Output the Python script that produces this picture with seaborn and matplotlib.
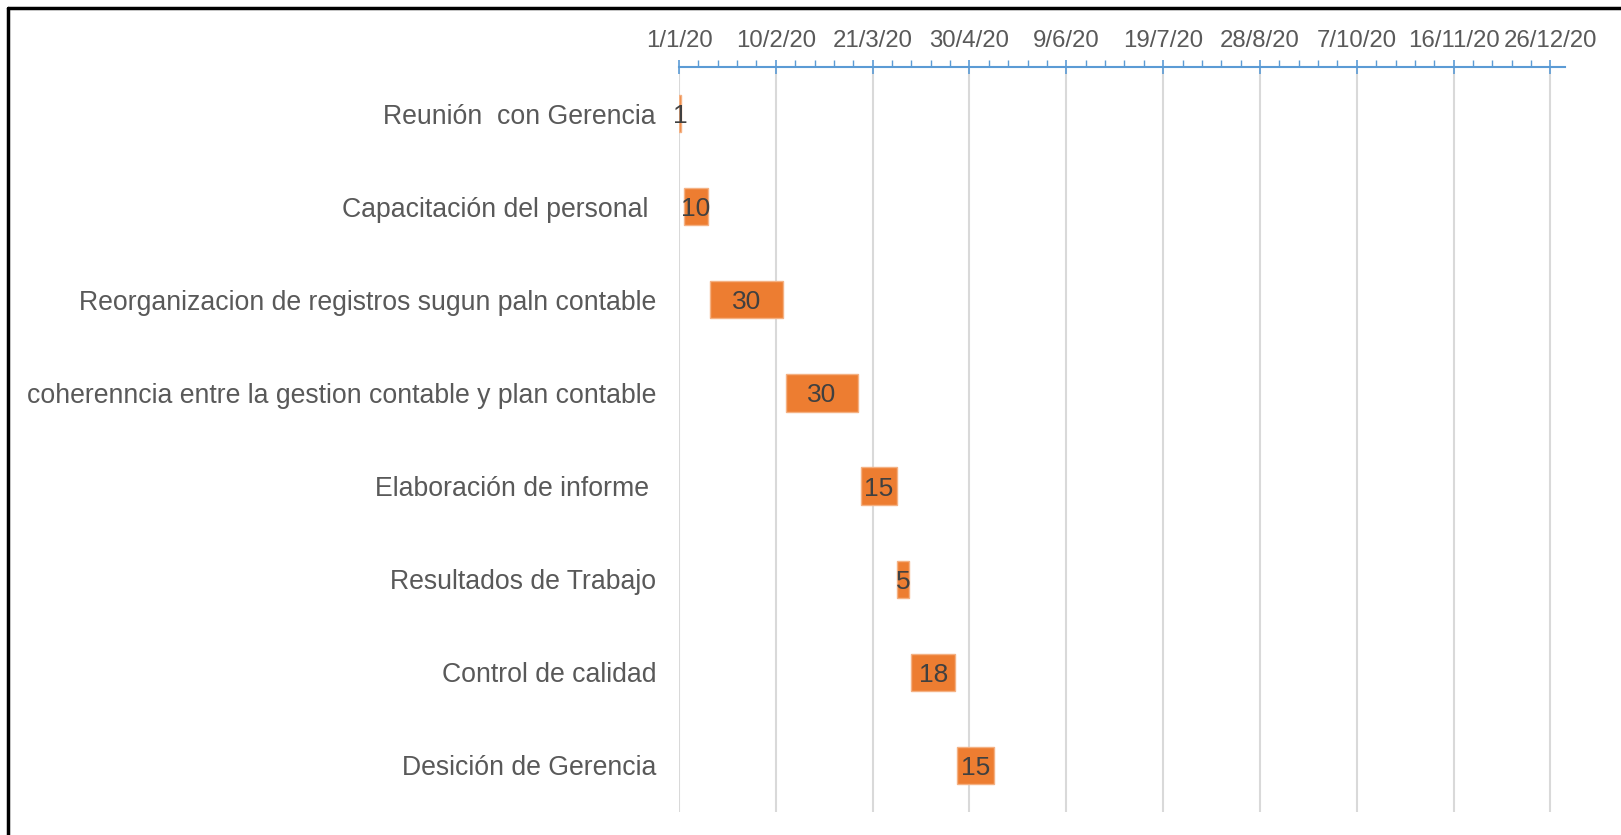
import datetime as dt
import matplotlib
matplotlib.use("Agg")
import matplotlib.pyplot as plt
from matplotlib.lines import Line2D
from matplotlib.ticker import FixedLocator, MultipleLocator
import seaborn as sns
import pandas as pd

# ---- data ----
tasks = [
    "Reunión  con Gerencia",
    "Capacitación del personal ",
    "Reorganizacion de registros sugun paln contable",
    "coherenncia entre la gestion contable y plan contable",
    "Elaboración de informe ",
    "Resultados de Trabajo",
    "Control de calidad",
    "Desición de Gerencia",
]
start_dates = ["2020-01-01", "2020-01-03", "2020-01-14", "2020-02-14",
               "2020-03-16", "2020-03-31", "2020-04-06", "2020-04-25"]
durations = [1, 10, 30, 30, 15, 5, 18, 15]
tick_dates = ["2020-01-01", "2020-02-10", "2020-03-21", "2020-04-30", "2020-06-09",
              "2020-07-19", "2020-08-28", "2020-10-07", "2020-11-16", "2020-12-26"]
axis_min, axis_max = "2020-01-01", "2021-01-01"

base = dt.date.fromisoformat(axis_min)
def day(s):
    return (dt.date.fromisoformat(s) - base).days

df = pd.DataFrame({"task": tasks,
                   "start": [day(s) for s in start_dates],
                   "dur": durations})

sns.set_theme(style="white")
plt.rcParams["font.family"] = ["Liberation Sans", "DejaVu Sans"]

fig = plt.figure(figsize=(16.21, 8.35), dpi=100)
ax = fig.add_axes([679 / 1621, 23 / 835, 886 / 1621, 745 / 835])

sns.barplot(data=df, x="dur", y="task", orient="h", color="#ED7D31",
            saturation=1, width=0.4, edgecolor="#F4B183", linewidth=1, ax=ax, zorder=3)
for patch, s in zip(ax.patches, df["start"]):
    patch.set_x(s)

for patch, d in zip(ax.patches, df["dur"]):
    cx = patch.get_x() + patch.get_width() / 2
    cy = patch.get_y() + patch.get_height() / 2
    ax.text(cx, cy, str(d), ha="center", va="center_baseline", fontsize=19,
            color="#404040", zorder=4)

ax.set_xlim(0, day(axis_max))
ax.set_ylim(len(tasks) - 0.5, -0.5)

ticks = [day(t) for t in tick_dates]
labels = [f"{dt.date.fromisoformat(t).day}/{dt.date.fromisoformat(t).month}/{dt.date.fromisoformat(t).year % 100}"
          for t in tick_dates]
ax.xaxis.set_major_locator(FixedLocator(ticks))
ax.set_xticklabels(labels)
ax.xaxis.set_minor_locator(MultipleLocator(8))
ax.xaxis.tick_top()
ax.tick_params(axis="x", which="major", direction="inout", length=10, width=1.2,
               color="#5B9BD5", labelsize=17.3, labelcolor="#595959", pad=5.5)
ax.tick_params(axis="x", which="minor", direction="out", length=5, width=1,
               color="#5B9BD5", top=True, bottom=False)
ax.tick_params(axis="y", length=0, labelsize=19.2, labelcolor="#595959", pad=16.5)
ax.set_xlabel("")
ax.set_ylabel("")

ax.grid(axis="x", color="#D9D9D9", linewidth=1.5, zorder=0)
ax.grid(axis="y", visible=False)
ax.set_axisbelow(True)
for side in ["bottom", "left", "right"]:
    ax.spines[side].set_visible(False)
ax.spines["top"].set_color("#5B9BD5")
ax.spines["top"].set_linewidth(1.5)

# outer frame (top and left only)
fig.add_artist(Line2D([8 / 1621, 1.0], [1 - 8 / 835, 1 - 8 / 835], color="black",
                      linewidth=2.5, transform=fig.transFigure))
fig.add_artist(Line2D([8 / 1621, 8 / 1621], [0, 1 - 8 / 835], color="black",
                      linewidth=2.5, transform=fig.transFigure))

fig.savefig("out.png", dpi=100, facecolor="white")
